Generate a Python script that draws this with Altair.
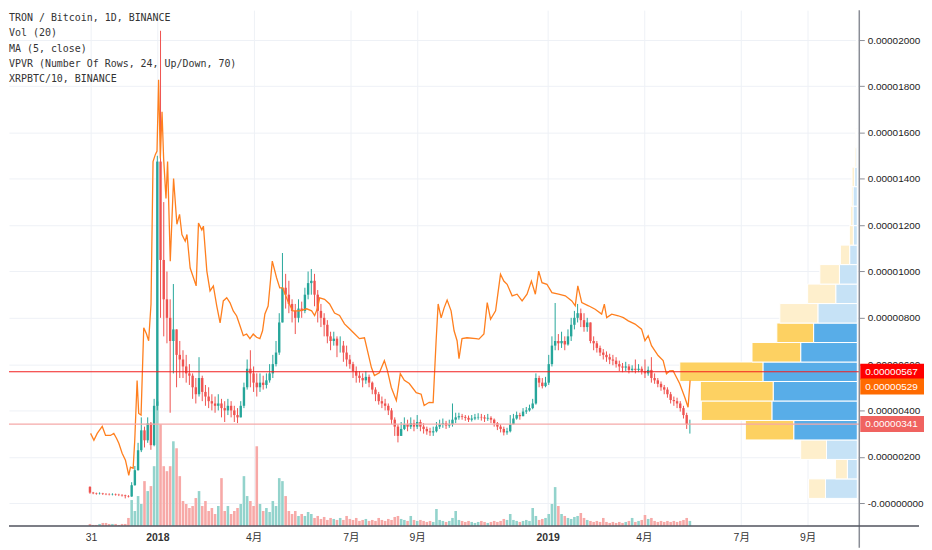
import altair as alt
import pandas as pd

# ---------------- data (prices in satoshi = 1e-8 BTC) ----------------
candle_start = "2017-10-30"      # 3-day candles
first_open = 70
close = [45, 42, 40, 41, 39, 38, 37, 38, 36, 35,
         33, 30, 28, 77, 142, 228, 314, 271, 344, 250,
         420, 1475, 1050, 880, 800, 700, 750, 640, 620, 590,
         560, 550, 500, 470, 540, 480, 460, 440, 430, 420,
         430, 410, 400, 420, 400, 380, 370, 420, 500, 580,
         560, 520, 500, 520, 510, 530, 560, 600, 650, 780,
         930, 900, 860, 830, 800, 840, 830, 900, 950, 960,
         900, 830, 800, 770, 720, 700, 710, 680, 680, 650,
         620, 600, 570, 550, 540, 530, 545, 520, 490, 470,
         440, 430, 420, 400, 360, 330, 290, 320, 340, 330,
         345, 330, 350, 330, 320, 310, 305, 310, 330, 340,
         345, 335, 340, 360, 370, 375, 372, 368, 360, 365,
         370, 372, 370, 365, 368, 360, 345, 330, 320, 305,
         310, 340, 365, 380, 375, 395, 400, 410, 430, 540,
         520, 505, 520, 600, 680, 700, 690, 700, 685, 720,
         770, 800, 820, 790, 760, 780, 700, 690, 670, 650,
         640, 630, 620, 615, 600, 590, 585, 590, 575, 580,
         575, 580, 570, 560, 575, 540, 530, 515, 500, 490,
         470, 445, 440, 430, 410, 380, 340, 341]
high = [72, 48, 45, 46, 44, 43, 42, 42, 41, 40,
        38, 36, 34, 90, 160, 260, 370, 330, 370, 350,
        450, 1500, 2040, 1300, 1000, 880, 946, 720, 700, 660,
        640, 600, 560, 540, 630, 550, 510, 500, 470, 460,
        470, 450, 440, 450, 440, 420, 410, 440, 520, 620,
        660, 590, 560, 560, 550, 560, 600, 640, 700, 820,
        1080, 990, 960, 880, 860, 880, 870, 930, 1000, 1011,
        990, 920, 860, 820, 790, 740, 740, 720, 720, 700,
        680, 640, 610, 590, 570, 560, 570, 555, 525, 500,
        480, 460, 450, 430, 410, 370, 340, 350, 370, 360,
        370, 360, 380, 360, 345, 330, 325, 330, 350, 360,
        365, 355, 360, 430, 390, 390, 385, 380, 378, 380,
        385, 388, 385, 380, 385, 375, 365, 350, 340, 330,
        325, 380, 385, 395, 390, 410, 415, 425, 450, 560,
        550, 540, 545, 640, 720, 864, 730, 740, 720, 750,
        800, 830, 860, 840, 820, 800, 760, 720, 700, 680,
        665, 655, 645, 640, 630, 615, 605, 610, 600, 595,
        620, 600, 590, 620, 590, 630, 560, 540, 525, 510,
        500, 480, 460, 455, 440, 420, 390, 360]
low = [40, 38, 36, 37, 35, 34, 33, 33, 32, 30,
       28, 20, 24, 27, 75, 140, 220, 240, 260, 230,
       245, 400, 800, 720, 690, 390, 560, 500, 540, 540,
       520, 510, 450, 430, 460, 440, 420, 410, 400, 390,
       400, 370, 350, 380, 370, 350, 345, 370, 410, 490,
       500, 480, 460, 480, 490, 495, 520, 540, 590, 640,
       780, 840, 820, 780, 730, 780, 800, 820, 880, 900,
       850, 780, 760, 720, 690, 660, 680, 630, 650, 610,
       590, 580, 540, 520, 520, 500, 515, 500, 470, 440,
       425, 410, 400, 380, 340, 290, 262, 290, 315, 310,
       320, 310, 320, 310, 300, 295, 290, 290, 305, 320,
       325, 320, 325, 330, 345, 360, 360, 355, 350, 352,
       358, 360, 356, 350, 355, 345, 330, 315, 305, 292,
       295, 305, 345, 360, 360, 375, 385, 395, 405, 425,
       500, 495, 500, 510, 590, 660, 660, 670, 660, 680,
       700, 750, 780, 760, 740, 740, 690, 660, 650, 635,
       620, 610, 600, 595, 585, 570, 565, 570, 560, 565,
       560, 565, 555, 540, 550, 520, 515, 500, 485, 470,
       455, 430, 420, 410, 395, 365, 320, 300]
volume = [2, 1, 1, 2, 3, 3, 2, 2, 2, 1,
          2, 2, 8, 26, 15, 30, 22, 45, 35, 40,
          60, 125, 102, 60, 55, 60, 85, 78, 50, 25,
          22, 18, 20, 28, 35, 20, 25, 15, 18, 12,
          20, 48, 15, 20, 12, 15, 18, 22, 50, 30,
          25, 20, 80, 22, 15, 18, 14, 25, 20, 48,
          45, 30, 15, 12, 15, 10, 12, 10, 14, 12,
          8, 10, 7, 9, 6, 8, 7, 6, 8, 6,
          10, 7, 6, 8, 5, 6, 7, 5, 6, 5,
          8, 6, 5, 7, 6, 9, 10, 7, 6, 5,
          10, 6, 5, 6, 5, 4, 5, 4, 17, 6,
          5, 4, 5, 8, 15, 6, 5, 4, 5, 4,
          3, 4, 5, 4, 3, 4, 5, 4, 5, 7,
          6, 12, 6, 5, 4, 5, 6, 5, 18, 10,
          6, 7, 8, 12, 22, 39, 20, 12, 10, 8,
          7, 9, 10, 13, 8, 6, 5, 4, 5, 4,
          8, 4, 3, 4, 3, 4, 3, 4, 5, 8,
          4, 5, 6, 11, 7, 8, 5, 4, 5, 4,
          5, 4, 5, 4, 5, 6, 8, 5]

# XRPBTC/10 (days since 2018-01-01, satoshi)
xrp_day = [-62.4, -59.3, -56.2, -51.5, -48.4, -43.8, -40.7, -38.2, -36, -32.9,
           -29.8, -26.7, -25.1, -22.6, -21.1, -18.9, -17.4, -15.2, -12.7, -10.2,
           -8.1, -5.9, -4.0, -1.9, -0.3, 1.2, 2.8, 4.4, 5.9, 8.1,
           9.6, 12.1, 15.2, 18.3, 20.8, 23, 26.1, 27.7, 30.7, 33.8,
           36.3, 38.5, 41.6, 43.1, 46.3, 49.3, 52.4, 55.6, 58.7, 61.7,
           64.9, 68, 71, 74.2, 77.3, 80.4, 83.5, 86.6, 89.7, 92.8,
           95.9, 98.4, 100.6, 103.6, 107.5, 111.5, 114.5, 117.3, 122, 126.6,
           133.1, 139.7, 144.3, 147.1, 149.9, 151.8, 156.4, 161.1, 165.7, 170.4,
           175, 179.7, 184.4, 189, 193.7, 196.5, 200.2, 203, 207.6, 212.3,
           215.1, 218.8, 223.5, 227.2, 231, 235.6, 242.1, 246.7, 249.5, 254.2,
           257.9, 260.7, 262.6, 265.4, 268.2, 271, 274.7, 277.5, 280.3, 282.1,
           284.9, 289.6, 298, 300.7, 305.4, 308.5, 311.6, 316.3, 320.9, 324,
           327.1, 331.8, 336.4, 341.1, 345.7, 349.8, 353.5, 356.6, 359.7, 364.3,
           369, 375.2, 381.5, 387.6, 390.8, 393.2, 396.9, 403.2, 409.4, 415.5,
           418, 420.2, 424.9, 431.1, 435.8, 440.4, 446.7, 452.8, 456, 459,
           462.1, 468.3, 473, 476.1, 479.2, 482.3, 485.4, 488.5, 493.2, 496.3,
           498.2]
xrp_val = [301, 271, 301, 331, 292, 292, 301, 280, 258, 215,
           185, 120, 155, 150, 271, 529, 387, 380, 757, 731,
           701, 860, 1475, 1505, 1520, 1828, 1488, 1690, 1488, 1316,
           1475, 1045, 1402, 1204, 1247, 1160, 1131, 1160, 1015, 973,
           938, 1209, 1180, 1196, 1002, 916, 938, 851, 778, 873,
           887, 865, 830, 808, 766, 723, 730, 710, 730, 716,
           710, 744, 817, 851, 1045, 973, 929, 929, 873, 830,
           830, 839, 830, 810, 843, 886, 880, 860, 821, 810,
           774, 753, 731, 710, 714, 658, 585, 551, 563, 615,
           573, 499, 443, 559, 530, 516, 477, 470, 421, 435,
           434, 701, 860, 800, 843, 877, 830, 744, 701, 624,
           710, 714, 710, 708, 730, 866, 794, 830, 988, 959,
           945, 895, 902, 873, 902, 959, 902, 1002, 952, 945,
           909, 902, 895, 873, 852, 938, 866, 852, 837, 816,
           859, 801, 816, 809, 801, 787, 773, 751, 701, 723,
           680, 637, 615, 558, 571, 572, 543, 515, 457, 414,
           529]

# Visible-range volume profile, 24 rows (bottom -> top)
vp_up = [32, 10, 31, 64, 86, 84.7, 95, 57, 44, 39.7, 21.7, 18,
         7.7, 4, 4.3, 4.3, 2.7, 1.3, 0.8, 0.6, 0.5, 0.4, 0.4, 0.5]
vp_down = [17, 12, 26, 48.7, 71, 73.3, 83.7, 49, 37, 38.3, 28.3, 19.7,
           9.3, 4, 2.4, 1.7, 2.6, 1.4, 0.7, 0.5, 0.5, 0.4, 0.4, 0.5]
vp_value_area = [0, 0, 0, 1, 1, 1, 1, 1, 1, 0, 0, 0,
                 0, 0, 0, 0, 0, 0, 0, 0, 0, 0, 0, 0]

tick_days = [-62, 0, 90, 181, 243, 365, 455, 546, 608]
tick_labels = ["31", "2018", "4月", "7月", "9月", "2019", "4月", "7月", "9月"]
price_ticks = [0, 200, 400, 600, 800, 1000, 1200, 1400, 1600, 1800, 2000]

legend_lines = ["TRON / Bitcoin, 1D, BINANCE", "Vol (20)", "MA (5, close)",
                "VPVR (Number Of Rows, 24, Up/Down, 70)", "XRPBTC/10, BINANCE"]

# ---------------- layout / style ----------------
W, H = 854, 518
XDOM = [-138.7, 656.4]
YDOM = [-98.9, 2129.0]
UP, DOWN = "#26a69a", "#ef5350"
VUP, VDOWN = "#93d3cc", "#f7a9a7"
ORANGE = "#ff7f1e"
FONT = "Liberation Sans, Noto Sans CJK JP, sans-serif"

# ---------------- tables ----------------
dates = pd.date_range(candle_start, periods=len(close), freq="3D")
day = list((dates - pd.Timestamp("2018-01-01")).days)
opens = [first_open] + close[:-1]
cdf = pd.DataFrame({"day": day, "open": opens, "close": close,
                    "high": high, "low": low, "volume": volume})
cdf["high"] = cdf[["high", "open", "close"]].max(axis=1)
cdf["low"] = cdf[["low", "open", "close"]].min(axis=1)
cdf["v0"] = 0

xdf = pd.DataFrame({"day": xrp_day, "xrp": xrp_val})

lo, hi = float(cdf["low"].min()), float(cdf["high"].max())
nrows = len(vp_up)
rh = (hi - lo) / nrows
rows = []
for i in range(nrows):
    y1, y2 = lo + i * rh, lo + (i + 1) * rh
    va = "va" if vp_value_area[i] else "out"
    rows.append({"x1": 0, "x2": vp_up[i], "y1": y1, "y2": y2, "kind": "up_" + va})
    rows.append({"x1": vp_up[i], "x2": vp_up[i] + vp_down[i], "y1": y1, "y2": y2,
                 "kind": "down_" + va})
vdf = pd.DataFrame(rows)
tot = [u + d for u, d in zip(vp_up, vp_down)]
poc_i = tot.index(max(tot))
poc = lo + (poc_i + 0.5) * rh
last_close = close[-1]
last_xrp = xrp_val[-1]

xs = alt.Scale(domain=XDOM, nice=False, zero=False)
ys = alt.Scale(domain=YDOM, nice=False, zero=False)
vs = alt.Scale(domain=[0, H], nice=False, zero=False)

label_expr_x = " : ".join(
    f"datum.value == {d} ? '{t}'" for d, t in zip(tick_days, tick_labels)) + " : ''"
label_expr_y = "datum.value == 0 ? '-0.00000000' : format(datum.value / 100000000, '.8f')"

color_cond = alt.condition("datum.close >= datum.open", alt.value(UP), alt.value(DOWN))
vcolor_cond = alt.condition("datum.close >= datum.open", alt.value(VUP), alt.value(VDOWN))

vol = alt.Chart(cdf).mark_rule(strokeWidth=2.6).encode(
    x=alt.X("day:Q", scale=xs, axis=None),
    y=alt.Y("volume:Q", scale=vs, axis=None),
    y2="v0:Q",
    color=vcolor_cond,
)

vpvr = alt.Chart(vdf).mark_rect(stroke="white", strokeWidth=1).encode(
    x=alt.X("x1:Q", scale=alt.Scale(domain=[-2, W], reverse=True, nice=False, zero=False), axis=None),
    x2="x2:Q",
    y=alt.Y("y1:Q", scale=ys, axis=None),
    y2="y2:Q",
    color=alt.Color("kind:N", legend=None, scale=alt.Scale(
        domain=["up_va", "down_va", "up_out", "down_out"],
        range=["#58ade8", "#fdd162", "#c6e2f6", "#feefcc"])),
)

wick = alt.Chart(cdf).mark_rule(strokeWidth=1).encode(
    x=alt.X("day:Q", scale=xs, axis=alt.Axis(
        values=tick_days, labelExpr=label_expr_x, title=None, grid=True,
        gridColor="#eef1f6", gridWidth=1, ticks=False, domain=False,
        labelFont=FONT, labelFontSize=10.5, labelColor="#333333",
        labelPadding=7, labelOverlap=False, labelFlush=False,
        labelFontWeight={"condition": {"test": "datum.value == 0 || datum.value == 365",
                                       "value": "bold"}, "value": "normal"})),
    y=alt.Y("low:Q", scale=ys, axis=alt.Axis(
        orient="right", values=price_ticks, labelExpr=label_expr_y, title=None,
        grid=True, gridColor="#eef1f6", gridWidth=1, tickSize=5, tickColor="#8a8d96",
        domain=False, labelFont=FONT, labelFontSize=10,
        labelColor="#222222", labelPadding=3, labelOverlap=False, labelFlush=False)),
    y2="high:Q",
    color=color_cond,
)

body = alt.Chart(cdf).mark_rule(strokeWidth=2.4).encode(
    x=alt.X("day:Q", scale=xs, axis=None),
    y=alt.Y("open:Q", scale=ys, axis=None),
    y2="close:Q",
    color=color_cond,
)

xrp = alt.Chart(xdf).mark_line(color=ORANGE, strokeWidth=1.3).encode(
    x=alt.X("day:Q", scale=xs, axis=None),
    y=alt.Y("xrp:Q", scale=ys, axis=None),
)


def hline(v, color, width=1, opacity=1.0):
    return alt.Chart(pd.DataFrame({"v": [v]})).mark_rule(
        color=color, strokeWidth=width, opacity=opacity).encode(
        y=alt.Y("v:Q", scale=ys, axis=None), x=alt.value(0), x2=alt.value(W))


def price_tag(v, bg, dy):
    d = pd.DataFrame({"v": [v]})
    box = alt.Chart(d).mark_tick(orient="horizontal", size=64, thickness=16,
                                 color=bg, opacity=1, yOffset=dy).encode(
        x=alt.value(W + 33), y=alt.Y("v:Q", scale=ys, axis=None))
    txt = alt.Chart(d).mark_text(align="left", baseline="middle", color="white",
                                 font=FONT, fontSize=10, yOffset=dy,
                                 text=f"{v / 1e8:.8f}").encode(
        x=alt.value(W + 6), y=alt.Y("v:Q", scale=ys, axis=None))
    return [box, txt]


frame = pd.DataFrame({"k": [0]})
y_axis_line = alt.Chart(frame).mark_rule(color="#8a8d96", strokeWidth=1.5).encode(
    x=alt.value(W), y=alt.value(0), y2=alt.value(H + 22))
x_axis_line = alt.Chart(frame).mark_rule(color="#50535e", strokeWidth=1.5).encode(
    y=alt.value(H), x=alt.value(0), x2=alt.value(W + 60))

legend = [
    alt.Chart(pd.DataFrame({"t": [line]})).mark_text(
        align="left", baseline="middle", font="DejaVu Sans Mono", fontSize=10,
        color="#333333", text=line).encode(x=alt.value(0), y=alt.value(8 + 15.3 * i))
    for i, line in enumerate(legend_lines)
]

layers = ([vol, vpvr, wick, body, xrp,
           hline(last_close, "#f5a9a8", 1.2),
           hline(poc, "#f21f1f", 1.2),
           y_axis_line, x_axis_line]
          + price_tag(poc, "#ff0000", 0)
          + price_tag(last_xrp, "#ff6a00", 6)
          + price_tag(last_close, "#f06360", 0)
          + legend)

chart = alt.layer(*layers).resolve_scale(
    x="independent", y="independent", color="independent"
).properties(width=W, height=H, padding=0, background="white").configure_view(stroke=None)

chart.save("out.html", embed_options={"renderer": "svg", "actions": False})
